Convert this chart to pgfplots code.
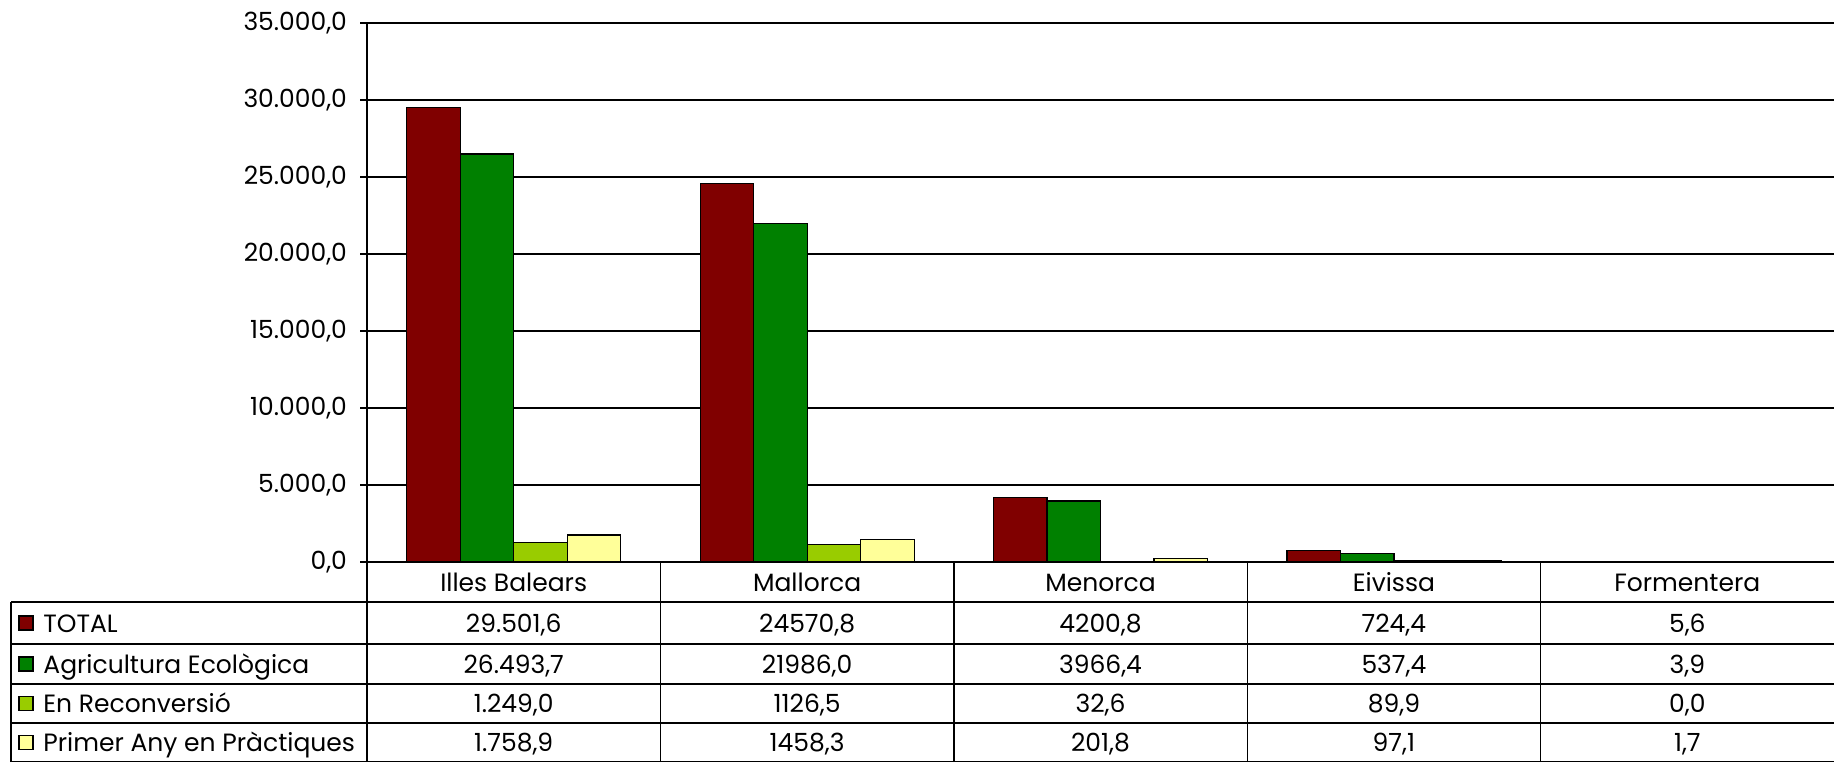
\documentclass[border=0pt]{standalone}
\usepackage{pgfplots}
\pgfplotsset{compat=1.18}
\usepackage{fontspec}
\setmainfont{Poppins}
\definecolor{cTot}{HTML}{800000}
\definecolor{cEco}{HTML}{008000}
\definecolor{cRec}{HTML}{99CC00}
\definecolor{cPri}{HTML}{FFFF99}
\newcommand{\tf}{\fontsize{12.5pt}{15pt}\selectfont}
\begin{document}
\begin{tikzpicture}[x=1pt,y=1pt]
\path[use as bounding box] (0,0) rectangle (917,381);
\begin{axis}[
  at={(183.5pt,100pt)}, anchor=south west,
  scale only axis, width=733.5pt, height=269.5pt,
  xmin=-0.5, xmax=4.5, ymin=0, ymax=35000,
  ybar=0pt, bar width=26.75pt,
  axis x line*=bottom, axis y line*=left,
  axis line style={-},
  x axis line style={line width=1.2pt},
  y axis line style={line width=0.7pt},
  ymajorgrids, grid style={black, line width=0.6pt},
  ytick distance=5000, scaled y ticks=false,
  tick align=outside, major tick length=3.5pt,
  tick style={black, line width=0.6pt},
  xtick={0,1,2,3,4},
  xticklabels={Illes Balears, Mallorca, Menorca, Eivissa, Formentera},
  x tick style={draw=none},
  xticklabel style={font=\tf, anchor=base, yshift=-11pt},
  yticklabel style={font=\tf, xshift=-3pt},
  /pgf/number format/.cd, fixed, fixed zerofill, precision=1, use comma, 1000 sep={.}, assume math mode=true,
]
\addplot[fill=cTot, draw=black, line width=0.6pt] coordinates {(0,29501.6) (1,24570.8) (2,4200.8) (3,724.4) (4,5.6)};
\addplot[fill=cEco, draw=black, line width=0.6pt] coordinates {(0,26493.7) (1,21986.0) (2,3966.4) (3,537.4) (4,3.9)};
\addplot[fill=cRec, draw=black, line width=0.6pt] coordinates {(0,1249.0) (1,1126.5) (2,32.6) (3,89.9) (4,0.0)};
\addplot[fill=cPri, draw=black, line width=0.6pt] coordinates {(0,1758.9) (1,1458.3) (2,201.8) (3,97.1) (4,1.7)};
\end{axis}
% table lines
\begin{scope}[line width=0.7pt, black]
\draw (5.5,80) -- (917,80);
\draw (5.5,59) -- (917,59);
\draw (5.5,39) -- (917,39);
\draw (5.5,19.5) -- (917,19.5);
\draw (5.5,0.35) -- (917,0.35);
\draw (5.5,0) -- (5.5,80);
\draw (183.5,0) -- (183.5,100);
\foreach \x in {330.2,476.9,623.6,770.3} \draw (\x,0) -- (\x,100);
\end{scope}
% legend keys
\foreach \y/\c in {69.5/cTot,49/cEco,29.25/cRec,9.75/cPri}
  \draw[fill=\c, line width=0.6pt] (9.5,\y-3.5) rectangle (16.5,\y+3.5);
\begin{scope}[every node/.style={font=\tf, inner sep=0pt}]
\node[anchor=base west] at (21.5,65) {TOTAL};
\node[anchor=base west] at (21.5,44.5) {Agricultura Ecològica};
\node[anchor=base west] at (21.5,24.75) {En Reconversió};
\node[anchor=base west] at (21.5,5.25) {Primer Any en Pràctiques};
\foreach \x/\a/\b/\c/\d in {256.85/29.501{,}6/26.493{,}7/1.249{,}0/1.758{,}9,
                            403.55/24570{,}8/21986{,}0/1126{,}5/1458{,}3,
                            550.25/4200{,}8/3966{,}4/32{,}6/201{,}8,
                            696.95/724{,}4/537{,}4/89{,}9/97{,}1,
                            843.65/5{,}6/3{,}9/0{,}0/1{,}7} {
  \node[anchor=base] at (\x,65) {\a};
  \node[anchor=base] at (\x,44.5) {\b};
  \node[anchor=base] at (\x,24.75) {\c};
  \node[anchor=base] at (\x,5.25) {\d};
}
\end{scope}
\end{tikzpicture}
\end{document}
